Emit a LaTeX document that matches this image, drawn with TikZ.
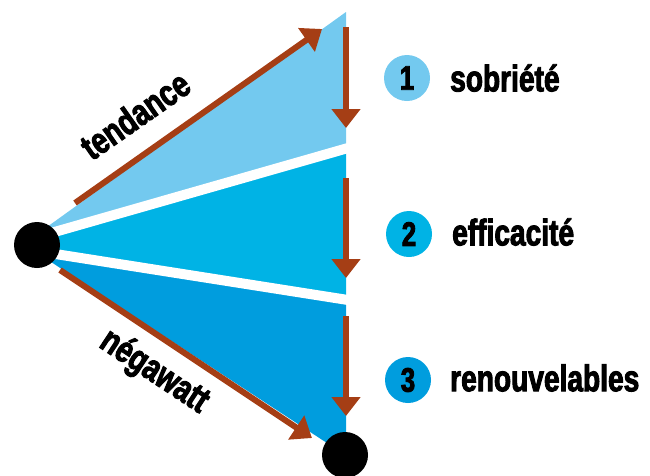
\documentclass[tikz,border=0pt]{standalone}
\usepackage{fontspec}
\newfontfamily\imp[FakeStretch=0.76,FakeBold=2.5]{Liberation Sans}
\usetikzlibrary{arrows.meta}
\definecolor{blueA}{HTML}{73C9EF}
\definecolor{blueB}{HTML}{00B3E5}
\definecolor{blueC}{HTML}{009DDE}
\definecolor{brick}{HTML}{A53E15}
\tikzset{
  dot/.style={circle,fill=black,minimum size=46pt,inner sep=0pt},
  num/.style={circle,minimum size=46pt,inner sep=0pt,font=\imp\bfseries\fontsize{34}{34}\selectfont},
  lab/.style={anchor=west,inner sep=0pt,font=\imp\bfseries\fontsize{37}{37}\selectfont},
  slab/.style={inner sep=0pt,font=\imp\bfseries\fontsize{37}{37}\selectfont},
  brarrow/.style={draw=brick,line width=6pt,-{Triangle[length=19pt,width=28pt]}},
  gap/.style={draw=white,line width=10pt}
}
\begin{document}
\begin{tikzpicture}[x=1pt,y=-1pt]
\useasboundingbox (0,0) rectangle (650,475);
% fan
\fill[blueA] (40,232) -- (346,12) -- (346,148) -- (37,240) -- cycle;
\fill[blueB] (37,236) -- (346,148) -- (346,300) -- (37,252) -- cycle;
\fill[blueC] (37,248) -- (346,300) -- (346,450) -- (330,445) -- (45,258) -- cycle;
\draw[gap] (30,239) -- (348,148);
\draw[gap] (30,250) -- (348,300);
% dots
\node[dot] (L) at (37,245) {};
\node[dot] (B) at (345,455) {};
% arrows
\coordinate (t0) at (75,203);
\coordinate (t1) at (322,29);
\coordinate (n0) at (60,270);
\coordinate (n1) at (312,438);
\coordinate (a0) at (346,27);  \coordinate (a1) at (346,128);
\coordinate (b0) at (346,178); \coordinate (b1) at (346,278);
\coordinate (c0) at (346,316); \coordinate (c1) at (346,416);
\draw[brarrow] (t0) -- (t1);
\draw[brarrow] (n0) -- (n1);
\draw[brarrow] (a0) -- (a1);
\draw[brarrow] (b0) -- (b1);
\draw[brarrow] (c0) -- (c1);
% labels on arrows
\node[slab,rotate=35] (tl) at (135,115) {tendance};
\node[slab,rotate=-33.5] (nl) at (154,372) {négawatt};
% legend
\node[num,fill=blueA] (n1c) at (407,78) {1};
\node[num,fill=blueB] (n2c) at (409,234) {2};
\node[num,fill=blueC] (n3c) at (408,380) {3};
\node[lab] (s1) at (450,78) {sobriété};
\node[lab] (s2) at (452,232) {efficacité};
\node[lab] (s3) at (450,378) {renouvelables};
\end{tikzpicture}
\end{document}
